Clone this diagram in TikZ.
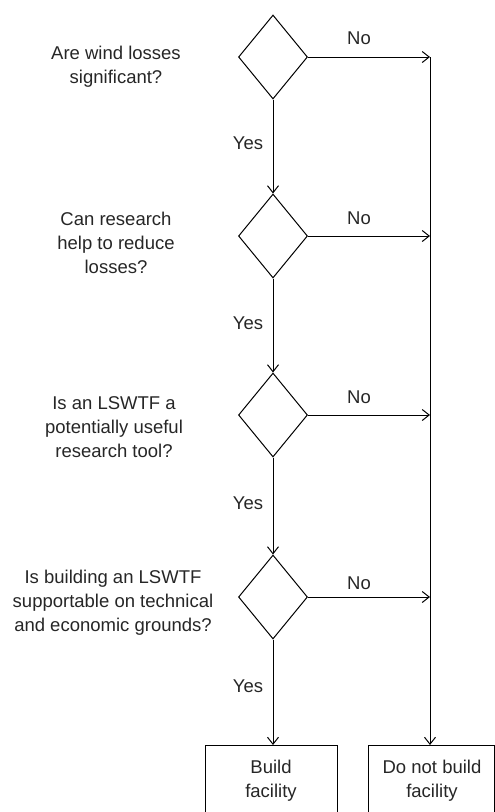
\documentclass[tikz,border=0pt]{standalone}
\usepackage{fontspec}
\setmainfont{Liberation Sans}
\usetikzlibrary{shapes.geometric,arrows.meta}
\begin{document}
\begin{tikzpicture}[x=1pt,y=-1pt,
  every node/.style={font=\fontsize{18.5}{24}\selectfont, text=black!85},
  dec/.style={draw, diamond, minimum width=69pt, minimum height=84pt, inner sep=0pt, line width=1pt},
  endbox/.style={draw, line width=1pt, minimum width=132pt, minimum height=90pt, anchor=north, align=center, text depth=0pt},
  q/.style={align=center},
  lab/.style={inner sep=0pt},
  arr/.style={line width=1pt, -{Straight Barb[length=7pt,width=11pt]}},
  ln/.style={line width=1pt}
]
\useasboundingbox (0,0) rectangle (495,812);
\clip (0,0) rectangle (495,812);

\node[dec] (d1) at (273,57) {};
\node[dec] (d2) at (273,236) {};
\node[dec] (d3) at (273,415) {};
\node[dec] (d4) at (273,597) {};

\node[q] (q1) at (116,67) {Are wind losses\\significant?};
\node[q] (q2) at (116,243) {Can research\\help to reduce\\losses?};
\node[q] (q3) at (114,427) {Is an LSWTF a\\potentially useful\\research tool?};
\node[q] (q4) at (113,603) {Is building an LSWTF\\supportable on technical\\and economic grounds?};

\draw[line width=1pt] (205,745) rectangle (337,830);
\node (b1) at (271,781) [align=center] {Build\\facility};
\coordinate (b1t) at (273,745);
\draw[line width=1pt] (368,745) rectangle (494,830);
\node (b2) at (432,781) [align=center] {Do not build\\facility};
\coordinate (b2t) at (430,745);

\coordinate (r1) at (430,57);
\coordinate (r2) at (430,236);
\coordinate (r3) at (430,415);
\coordinate (r4) at (430,597);

\draw[arr] (d1.south) -- (d2.north);
\draw[arr] (d2.south) -- (d3.north);
\draw[arr] (d3.south) -- (d4.north);
\draw[arr] (d4.south) -- (b1t);

\draw[arr] (d1.east) -- (r1);
\draw[arr] (d2.east) -- (r2);
\draw[arr] (d3.east) -- (r3);
\draw[arr] (d4.east) -- (r4);
\draw[arr] (r1) -- (b2t);

\node[lab] (y1) at (248,143) {Yes};
\node[lab] (y2) at (248,323) {Yes};
\node[lab] (y3) at (248,503) {Yes};
\node[lab] (y4) at (248,686) {Yes};

\node[lab] (n1) at (359,38) {No};
\node[lab] (n2) at (359,218) {No};
\node[lab] (n3) at (359,397) {No};
\node[lab] (n4) at (359,583) {No};
\end{tikzpicture}
\end{document}
